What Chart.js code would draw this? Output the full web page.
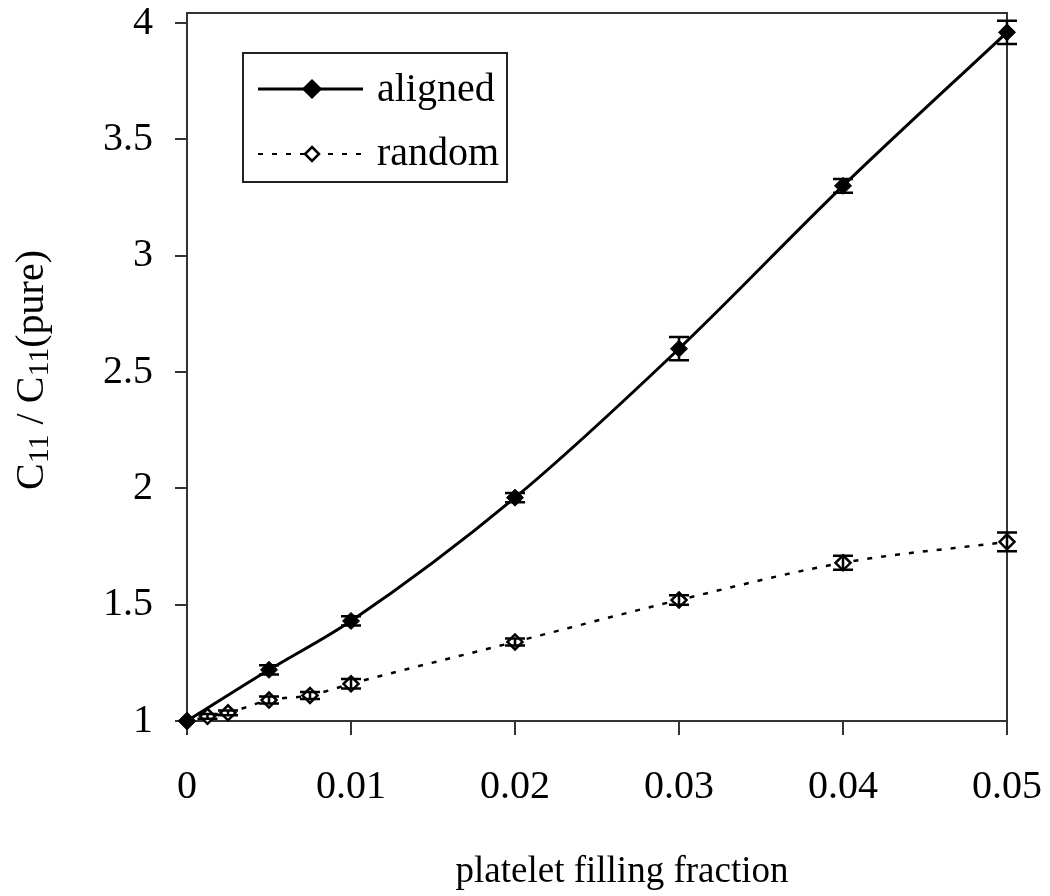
<!DOCTYPE html>
<html>
<head>
<meta charset="utf-8">
<script src="https://cdn.jsdelivr.net/npm/chart.js@4.4.0/dist/chart.umd.min.js"></script>
<style>
  html, body { margin: 0; padding: 0; background: #fff; }
  #wrap { width: 1050px; height: 896px; }
</style>
</head>
<body>
<div id="wrap"><canvas id="myChart" width="1050" height="896"></canvas></div>
<script>
// values
const alignedX = [0, 0.005, 0.01, 0.02, 0.03, 0.04, 0.05];
const alignedY = [1.0, 1.22, 1.43, 1.96, 2.60, 3.30, 3.96];
const alignedErr = [0, 0.02, 0.02, 0.02, 0.05, 0.03, 0.05];

const randomX = [0, 0.00125, 0.0025, 0.005, 0.0075, 0.01, 0.02, 0.03, 0.04, 0.05];
const randomY = [1.0, 1.02, 1.035, 1.09, 1.11, 1.16, 1.34, 1.52, 1.68, 1.77];
const randomErr = [0, 0.01, 0.01, 0.015, 0.015, 0.02, 0.015, 0.02, 0.03, 0.04];

const xTicks = [0, 0.01, 0.02, 0.03, 0.04, 0.05];
const yTicks = [1, 1.5, 2, 2.5, 3, 3.5, 4];

const serif = "'Liberation Serif', 'Times New Roman', serif";

function toPoints(xs, ys) {
    let pts = [];
    for (let i = 0; i < xs.length; i++) {
        pts.push({ x: xs[i], y: ys[i] });
    }
    return pts;
}

const errorBars = {
    id: 'errorBars',
    afterDatasetsDraw(chart) {
        const ctx = chart.ctx;
        const xs = chart.scales.x, ys = chart.scales.y;
        const sets = [[alignedX, alignedY, alignedErr], [randomX, randomY, randomErr]];
        ctx.save();
        ctx.strokeStyle = '#000';
        ctx.lineWidth = 2.5;
        sets.forEach(s => {
            for (let i = 0; i < s[0].length; i++) {
                if (!s[2][i]) continue;
                const px = xs.getPixelForValue(s[0][i]);
                const top = ys.getPixelForValue(s[1][i] + s[2][i]);
                const bot = ys.getPixelForValue(s[1][i] - s[2][i]);
                ctx.beginPath();
                ctx.moveTo(px, top); ctx.lineTo(px, bot);
                ctx.moveTo(px - 10, top); ctx.lineTo(px + 10, top);
                ctx.moveTo(px - 10, bot); ctx.lineTo(px + 10, bot);
                ctx.stroke();
            }
        });
        ctx.restore();
    }
};

const frameAndText = {
    id: 'frameAndText',
    beforeDatasetsDraw(chart) {
        const ctx = chart.ctx;
        const a = chart.chartArea;
        ctx.save();
        // top and right frame lines
        ctx.strokeStyle = '#333';
        ctx.lineWidth = 2;
        ctx.beginPath();
        ctx.moveTo(a.left, a.top); ctx.lineTo(a.right, a.top); ctx.lineTo(a.right, a.bottom);
        ctx.stroke();
        ctx.restore();
    },
    afterDraw(chart) {
        const ctx = chart.ctx;
        const a = chart.chartArea;
        ctx.save();

        // legend box
        const lx = a.left + 56, ly = a.top + 40;
        ctx.fillStyle = '#fff';
        ctx.fillRect(lx, ly, 264, 129);
        ctx.strokeStyle = '#222';
        ctx.lineWidth = 2;
        ctx.strokeRect(lx, ly, 264, 129);

        ctx.strokeStyle = '#000';
        ctx.lineWidth = 3;
        ctx.setLineDash([]);
        ctx.beginPath();
        ctx.moveTo(lx + 15, ly + 36); ctx.lineTo(lx + 120, ly + 36);
        ctx.stroke();
        drawDiamond(ctx, lx + 69, ly + 36, 8, '#000');

        ctx.lineWidth = 2;
        ctx.setLineDash([5, 9]);
        ctx.beginPath();
        ctx.moveTo(lx + 15, ly + 101); ctx.lineTo(lx + 120, ly + 101);
        ctx.stroke();
        ctx.setLineDash([]);
        ctx.lineWidth = 2.5;
        drawDiamond(ctx, lx + 69, ly + 101, 7, '#fff');

        ctx.fillStyle = '#000';
        ctx.font = '40px ' + serif;
        ctx.textAlign = 'left';
        ctx.textBaseline = 'alphabetic';
        ctx.fillText('aligned', lx + 134, ly + 48);
        ctx.fillText('random', lx + 134, ly + 112);

        // x axis title
        ctx.textAlign = 'center';
        ctx.font = '37px ' + serif;
        ctx.fillText('platelet filling fraction', (a.left + a.right) / 2 + 25, 882);

        // y axis title with subscripts
        ctx.translate(43, (a.top + a.bottom) / 2 + 3);
        ctx.rotate(-Math.PI / 2);
        const parts = [['C', 40, 0], ['11', 30, 5], [' / C', 40, 0], ['11', 30, 5], ['(pure)', 40, 0]];
        let total = 0;
        parts.forEach(p => { ctx.font = p[1] + 'px ' + serif; total += ctx.measureText(p[0]).width; });
        let x = -total / 2;
        ctx.textAlign = 'left';
        parts.forEach(p => {
            ctx.font = p[1] + 'px ' + serif;
            ctx.fillText(p[0], x, p[2]);
            x += ctx.measureText(p[0]).width;
        });
        ctx.restore();
    }
};

function drawDiamond(ctx, x, y, r, fill) {
    ctx.beginPath();
    ctx.moveTo(x, y - r); ctx.lineTo(x + r, y); ctx.lineTo(x, y + r); ctx.lineTo(x - r, y);
    ctx.closePath();
    ctx.fillStyle = fill;
    ctx.fill();
    ctx.stroke();
}

const data = {
    datasets: [
        {
            label: 'aligned',
            data: toPoints(alignedX, alignedY),
            borderColor: '#000',
            backgroundColor: '#000',
            borderWidth: 3,
            pointStyle: 'rectRot',
            pointRadius: 8.5,
            pointBorderWidth: 1,
            cubicInterpolationMode: 'monotone',
            clip: false
        },
        {
            label: 'random',
            data: toPoints(randomX, randomY),
            borderColor: '#000',
            backgroundColor: '#fff',
            borderWidth: 2.5,
            borderDash: [5, 9],
            pointStyle: 'rectRot',
            pointRadius: 7.5,
            pointBorderWidth: 2.5,
            cubicInterpolationMode: 'monotone',
            clip: false
        }
    ]
};

const config = {
    type: 'line',
    data: data,
    options: {
        responsive: false,
        animation: false,
        layout: { padding: { left: 0, right: 43, top: 13, bottom: 0 } },
        plugins: {
            legend: { display: false },
            tooltip: { enabled: false }
        },
        scales: {
            x: {
                type: 'linear',
                min: 0,
                max: 0.05,
                afterBuildTicks: s => { s.ticks = xTicks.map(v => ({ value: v })); },
                afterFit: s => { s.height = 896 - 721; s.paddingLeft = 0; s.paddingRight = 0; },
                grid: { drawOnChartArea: false, drawTicks: true, tickLength: 14, color: '#333', lineWidth: 2 },
                border: { color: '#333', width: 2 },
                ticks: {
                    color: '#000',
                    padding: 28,
                    maxRotation: 0,
                    font: { family: serif, size: 40 },
                    callback: v => String(v)
                }
            },
            y: {
                type: 'linear',
                min: 1,
                max: 4.043,
                afterBuildTicks: s => { s.ticks = yTicks.map(v => ({ value: v })); },
                afterFit: s => { s.width = 187; s.paddingTop = 0; s.paddingBottom = 0; },
                grid: { drawOnChartArea: false, drawTicks: true, tickLength: 12, color: '#333', lineWidth: 2 },
                border: { color: '#333', width: 2 },
                ticks: {
                    color: '#000',
                    padding: 22,
                    font: { family: serif, size: 40 },
                    callback: v => String(v)
                }
            }
        }
    },
    plugins: [errorBars, frameAndText]
};

window.mychart = new Chart(document.getElementById('myChart'), config);
</script>
</body>
</html>
